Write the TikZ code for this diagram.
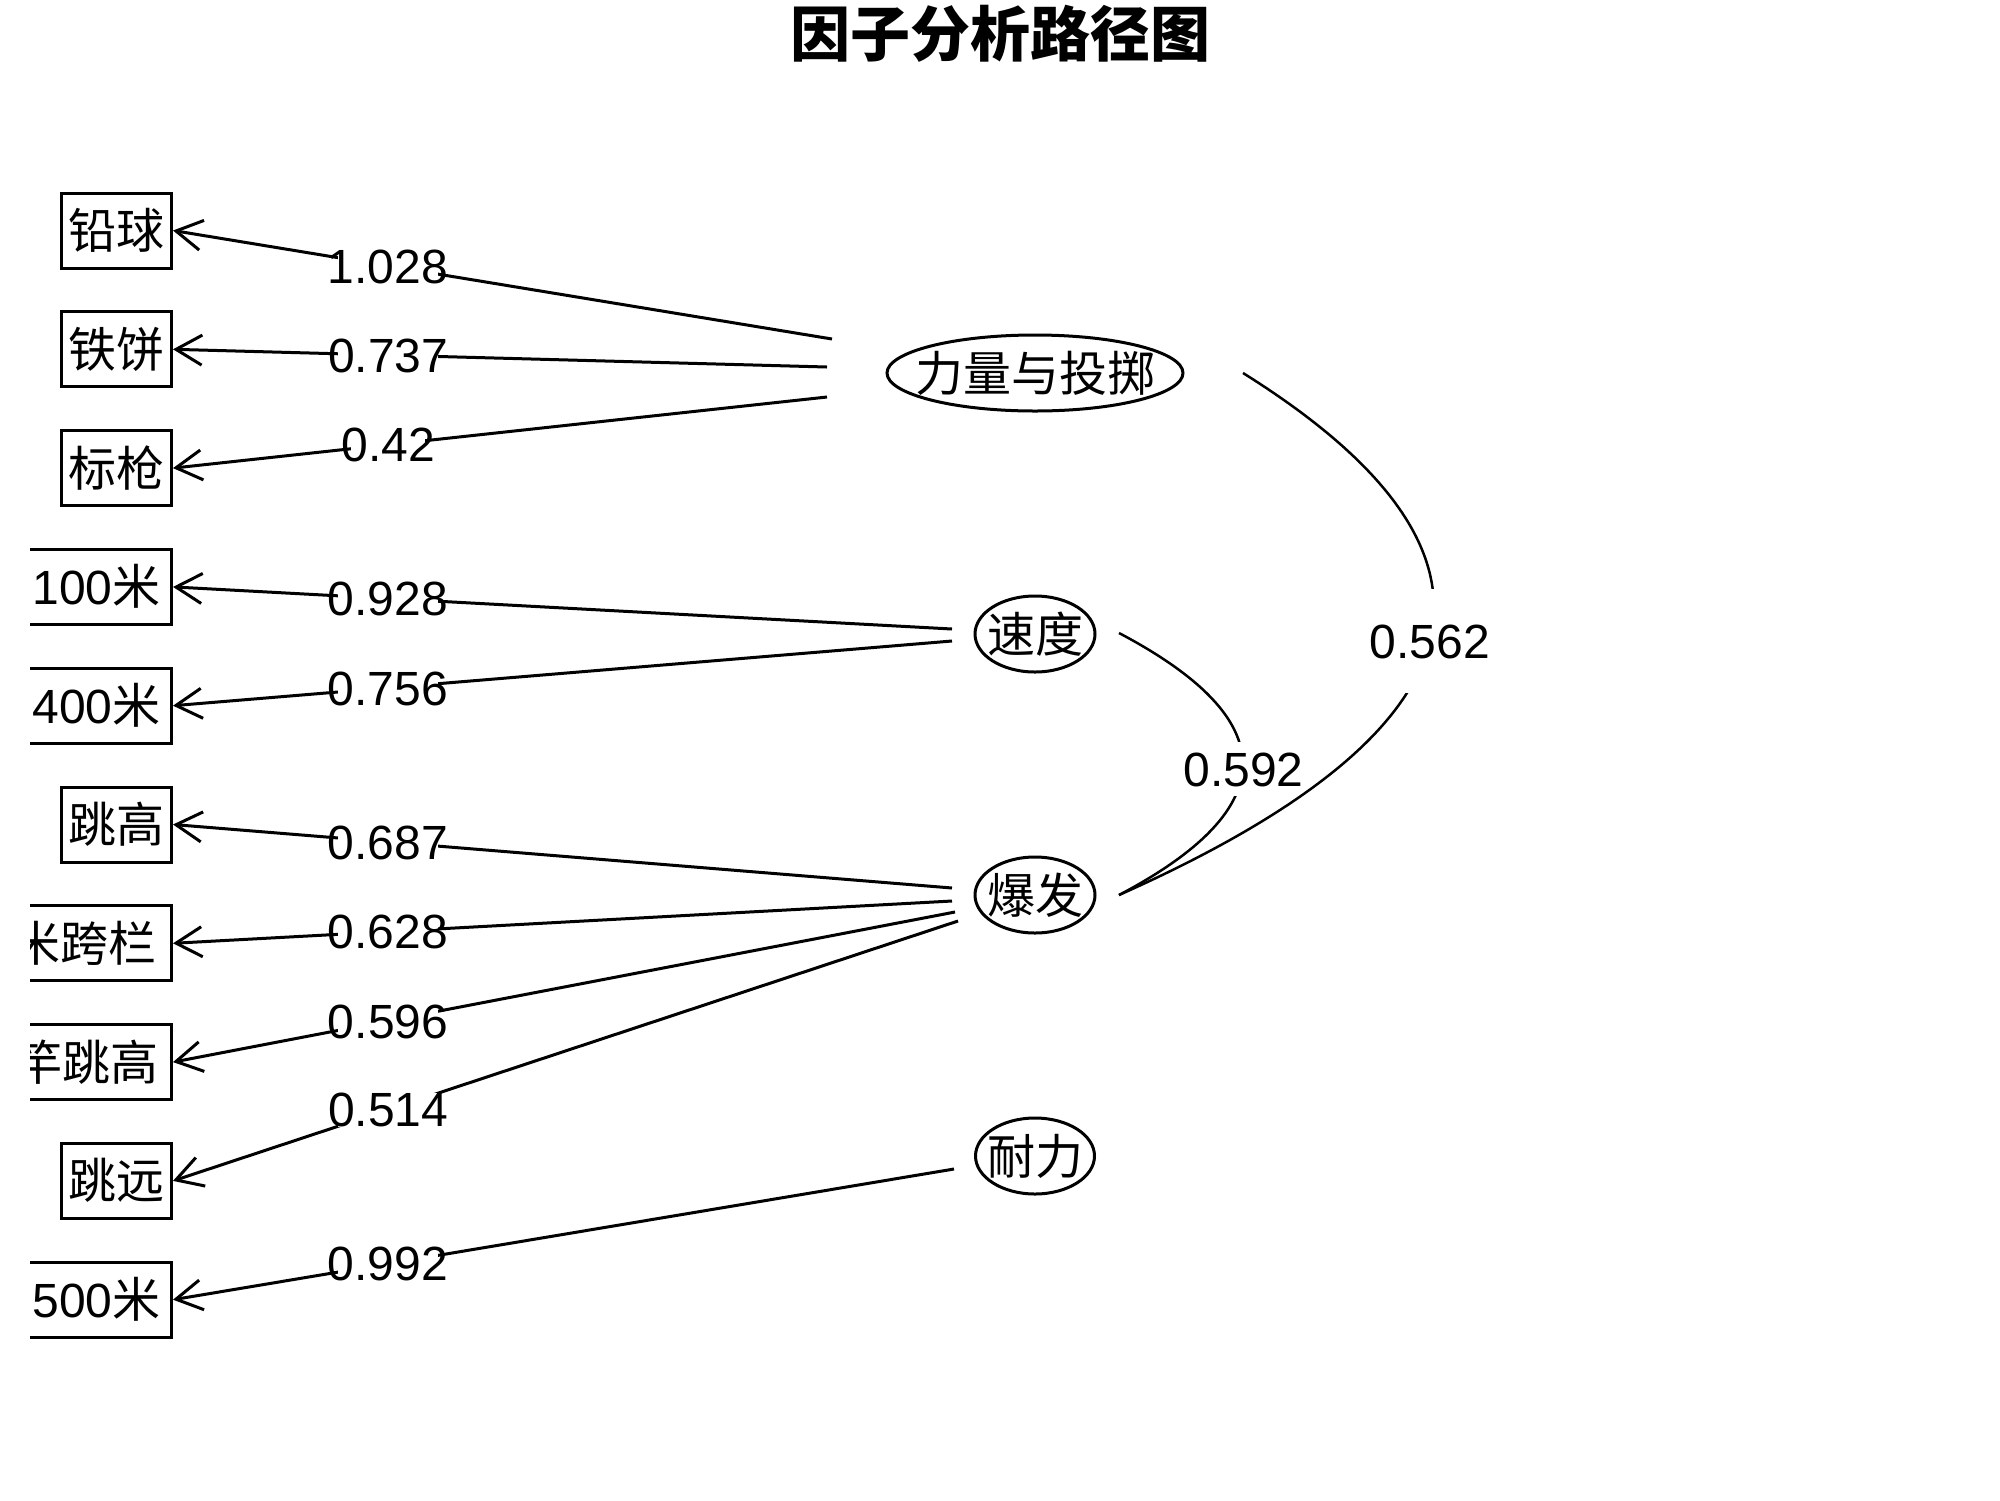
\documentclass[tikz,border=0pt]{standalone}
\usepackage{fontspec}
\setmainfont{Liberation Sans}
\newfontfamily\cjk{Noto Sans CJK SC}
\usetikzlibrary{arrows.meta,shapes.geometric}
\begin{document}
\begin{tikzpicture}[x=1pt,y=-1pt,
  every node/.style={font=\fontsize{48}{56}\selectfont},
  obs/.style={draw, rectangle, line width=3pt, minimum height=75pt, inner sep=0pt, anchor=east, text height=40pt, text depth=4pt},
  lat/.style={draw, ellipse, line width=3pt, inner sep=0pt, minimum height=76pt},
  lattext/.style={inner sep=0pt, text height=40pt, text depth=4pt, font=\fontsize{48}{56}\selectfont\cjk},
  load/.style={-{Straight Barb[length=26pt,width=30pt]}, line width=3pt},
  lbl/.style={fill=white, inner xsep=-10pt, inner ysep=0pt, text height=34.4pt, text depth=0pt},
  clbl/.style={fill=white, inner xsep=0pt, text height=34.4pt, text depth=0pt},
  cor/.style={line width=2.5pt}
]
\useasboundingbox (0,0) rectangle (2000,1500);

% title
\node[font=\fontsize{60}{70}\selectfont\cjk\bfseries, anchor=base, inner sep=0pt] (title) at (1000,56) {因子分析路径图};

% observed variables (clipped at plot region)
\begin{scope}
\clip (30,0) rectangle (2000,1500);
\node[obs, minimum width=110pt] (v1) at (173,230.5) {\cjk 铅球};
\node[obs, minimum width=110pt] (v2) at (173,349.3) {\cjk 铁饼};
\node[obs, minimum width=110pt] (v3) at (173,468.1) {\cjk 标枪};
\node[obs, minimum width=150pt] (v4) at (173,586.9) {100{\cjk 米}};
\node[obs, minimum width=150pt] (v5) at (173,705.7) {400{\cjk 米}};
\node[obs, minimum width=110pt] (v6) at (173,824.5) {\cjk 跳高};
\node[obs, minimum width=250pt] (v7) at (173,943.3) {110{\cjk 米跨栏}};
\node[obs, minimum width=218pt] (v8) at (173,1062.1) {\cjk 撑竿跳高};
\node[obs, minimum width=110pt] (v9) at (173,1180.9) {\cjk 跳远};
\node[obs, minimum width=150pt] (v10) at (173,1299.7) {500{\cjk 米}};
\end{scope}

% latent factors
\node[lat, minimum width=296pt] (f1) at (1035,373) {};
\node[lattext] (t1) at (f1.center) {力量与投掷};
\node[lat, minimum width=120pt] (f2) at (1035,634) {};
\node[lattext] (t2) at (f2.center) {速度};
\node[lat, minimum width=120pt] (f3) at (1035,895) {};
\node[lattext] (t3) at (f3.center) {爆发};
\node[lat, minimum width=119pt] (f4) at (1035,1156) {};
\node[lattext] (t4) at (f4.center) {耐力};

% loading line start points
\coordinate (s1) at (832,339);
\coordinate (s2) at (827,367);
\coordinate (s3) at (827,397);
\coordinate (s4) at (952,629);
\coordinate (s5) at (952,641);
\coordinate (s6) at (952,888);
\coordinate (s7) at (952,901);
\coordinate (s8) at (955,912);
\coordinate (s9) at (958,921);
\coordinate (s10) at (954,1169);

\draw[load] (s1) -- node[lbl,pos=0.674]{1.028} (v1.east);
\draw[load] (s2) -- node[lbl,pos=0.671]{0.737} (v2.east);
\draw[load] (s3) -- node[lbl,pos=0.671]{0.42} (v3.east);
\draw[load] (s4) -- node[lbl,pos=0.724]{0.928} (v4.east);
\draw[load] (s5) -- node[lbl,pos=0.724]{0.756} (v5.east);
\draw[load] (s6) -- node[lbl,pos=0.724]{0.687} (v6.east);
\draw[load] (s7) -- node[lbl,pos=0.724]{0.628} (v7.east);
\draw[load] (s8) -- node[lbl,pos=0.725]{0.596} (v8.east);
\draw[load] (s9) -- node[lbl,pos=0.726]{0.514} (v9.east);
\draw[load] (s10) -- node[lbl,pos=0.725]{0.992} (v10.east);

% factor correlations
\coordinate (c1s) at (1119,633);
\coordinate (c1e) at (1119,895);
\coordinate (c2s) at (1243,373);
\draw[cor] (c1s) .. controls (1284,720) and (1284,808) .. (c1e);
\node[clbl, inner ysep=9.5pt] (r1) at (1243.5,769) {0.592};
\draw[cor] (c2s) .. controls (1534,555) and (1492,729) .. (c1e);
\node[clbl, inner ysep=35pt] (r2) at (1430,641) {0.562};
\end{tikzpicture}
\end{document}
